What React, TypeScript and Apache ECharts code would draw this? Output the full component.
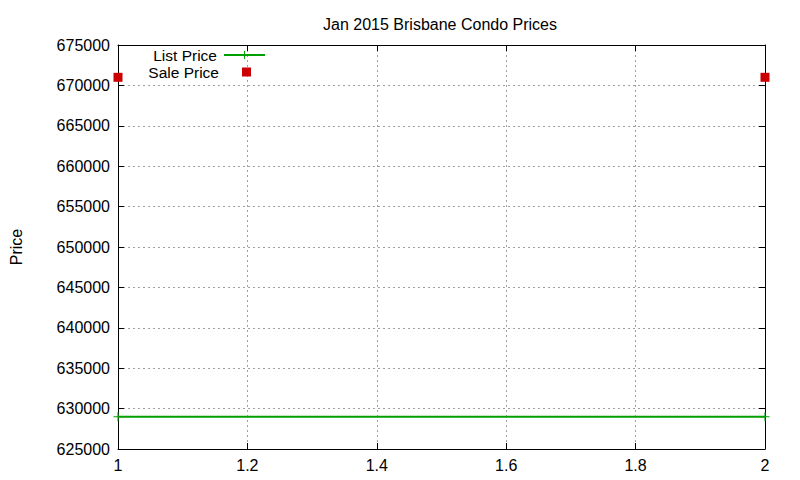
import { useEffect, useRef } from "react"
import * as echarts from "echarts"

const chartTitle = "Jan 2015 Brisbane Condo Prices"
const yAxisName = "Price"
const xValues = [1, 2]
const listPrice = [629000, 629000]
const salePrice = [671000, 671000]

const GREEN = "#00a000"
const RED = "#cc0000"
const FONT = "Liberation Sans, Arial, sans-serif"
const PLUS = "path://M4.4,0H5.6V4.4H10V5.6H5.6V10H4.4V5.6H0V4.4H4.4Z"

export default function App() {
  const chartRef = useRef<HTMLDivElement>(null)

  useEffect(() => {
    if (!chartRef.current) return
    const chart = echarts.init(chartRef.current, undefined, { renderer: "svg" })

    const gridLine = { show: true, lineStyle: { color: "#a0a0a0", type: [2, 3] as number[], width: 1 } }
    const axisLine = { show: true, onZero: false, lineStyle: { color: "#000", width: 1 } }
    const tick = { show: true, inside: true, length: 6, lineStyle: { color: "#000" } }
    const label = { color: "#000", fontSize: 16, fontFamily: FONT }
    const legendText = { color: "#000", fontSize: 15.5, lineHeight: 16, fontFamily: FONT }

    chart.setOption({
      animation: false,
      backgroundColor: "#fff",
      title: {
        text: chartTitle,
        left: 435,
        textAlign: "center",
        top: 11,
        textStyle: { color: "#000", fontSize: 16, fontWeight: "normal", fontFamily: FONT },
      },
      legend: [
        {
          data: ["List Price"],
          right: 534,
          top: 47,
          padding: 0,
          align: "right",
          itemWidth: 41,
          itemHeight: 10,
          textStyle: { ...legendText, padding: [0, 2, 0, 0] },
        },
        {
          data: [{ name: "Sale Price", icon: "rect" }],
          right: 549,
          top: 64,
          padding: 0,
          align: "right",
          itemWidth: 9,
          itemHeight: 9,
          textStyle: { ...legendText, padding: [0, 18, 0, 0] },
        },
      ],
      grid: { left: 118, right: 35, top: 45, bottom: 31, containLabel: false, outerBoundsMode: "none" },
      xAxis: [
        {
          type: "value",
          min: 1,
          max: 2,
          interval: 0.2,
          axisLine,
          axisTick: tick,
          splitLine: gridLine,
          axisLabel: { ...label, margin: 8 },
        },
        {
          type: "value",
          position: "top",
          min: 1,
          max: 2,
          interval: 0.2,
          axisLine,
          axisTick: tick,
          splitLine: { show: false },
          axisLabel: { show: false },
        },
      ],
      yAxis: [
        {
          type: "value",
          min: 625000,
          max: 675000,
          interval: 5000,
          name: yAxisName,
          nameLocation: "middle",
          nameGap: 94,
          nameRotate: 90,
          nameTextStyle: { color: "#000", fontSize: 16, fontFamily: FONT },
          axisLine,
          axisTick: tick,
          splitLine: gridLine,
          axisLabel: { ...label, margin: 8, formatter: (v: number) => String(v) },
        },
        {
          type: "value",
          position: "right",
          min: 625000,
          max: 675000,
          interval: 5000,
          axisLine,
          axisTick: tick,
          splitLine: { show: false },
          axisLabel: { show: false },
        },
      ],
      series: [
        {
          name: "List Price",
          type: "line",
          data: xValues.map((x, i) => [x, listPrice[i]]),
          symbol: PLUS,
          symbolSize: 9,
          showAllSymbol: true,
          color: GREEN,
          lineStyle: { color: GREEN, width: 2 },
          itemStyle: { color: GREEN },
          z: 3,
        },
        {
          name: "Sale Price",
          type: "scatter",
          data: xValues.map((x, i) => [x, salePrice[i]]),
          symbol: "rect",
          symbolSize: 9,
          color: RED,
          itemStyle: { color: RED, opacity: 1 },
          z: 3,
        },
      ],
    })

    return () => {
      chart.dispose()
    }
  }, [])

  return <div ref={chartRef} style={{ width: 800, height: 480, margin: -8 }} />
}
